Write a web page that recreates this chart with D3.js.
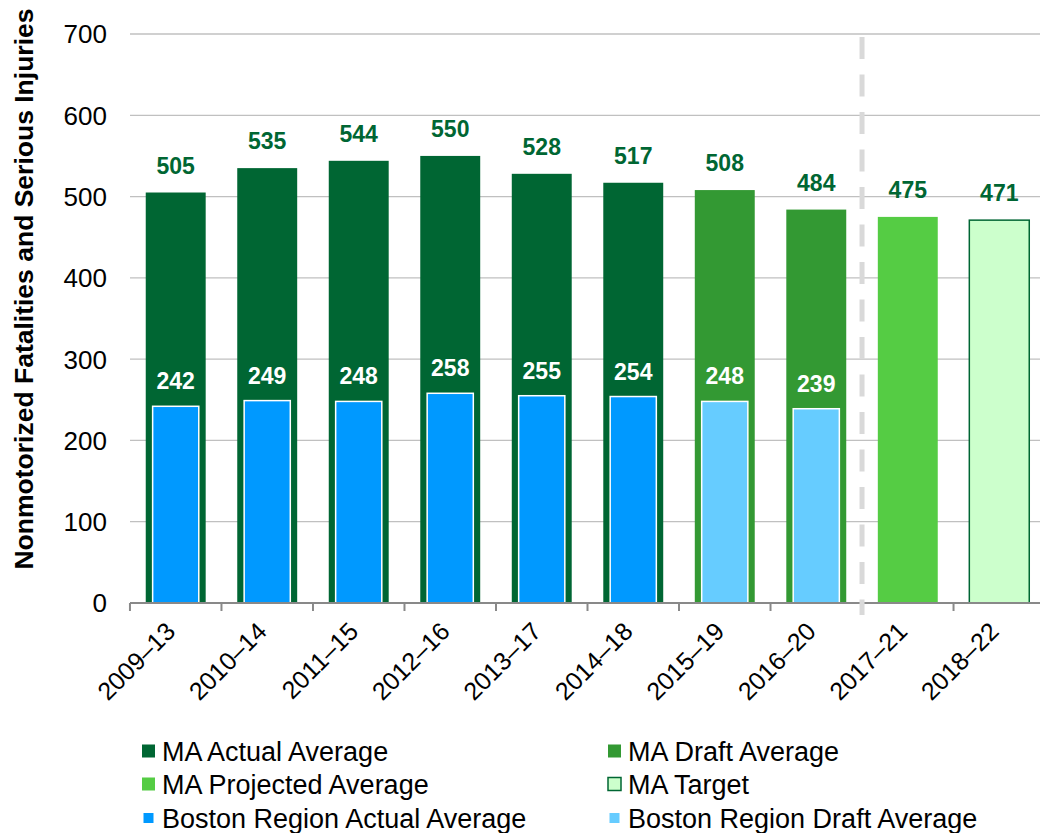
<!DOCTYPE html>
<html>
<head>
<meta charset="utf-8">
<script src="https://cdn.jsdelivr.net/npm/d3@7"></script>
<style>
  body { margin: 0; background: #fff; }
  svg { display: block; font-family: "Liberation Sans", Arial, sans-serif; }
</style>
</head>
<body>
<div id="chart"></div>
<script>
// chart data
var periods = ["2009–13", "2010–14", "2011–15", "2012–16", "2013–17", "2014–18", "2015–19", "2016–20", "2017–21", "2018–22"];
var maValues = [505, 535, 544, 550, 528, 517, 508, 484, 475, 471];
var maKinds = ["actual", "actual", "actual", "actual", "actual", "actual", "draft", "draft", "projected", "target"];
var bostonValues = [242, 249, 248, 258, 255, 254, 248, 239, null, null];
var bostonKinds = ["actual", "actual", "actual", "actual", "actual", "actual", "draft", "draft", null, null];
var yTicks = [0, 100, 200, 300, 400, 500, 600, 700];
var legendItems = [
  {label: "MA Actual Average", key: "ma-actual"},
  {label: "MA Draft Average", key: "ma-draft"},
  {label: "MA Projected Average", key: "ma-projected"},
  {label: "MA Target", key: "ma-target"},
  {label: "Boston Region Actual Average", key: "bos-actual"},
  {label: "Boston Region Draft Average", key: "bos-draft"}
];

var fills = {
  "ma-actual": "#006633",
  "ma-draft": "#339933",
  "ma-projected": "#55cc44",
  "ma-target": "#ccffcc",
  "bos-actual": "#0099ff",
  "bos-draft": "#66ccff"
};
var labelGreen = "#006633";

var width = 1040, height = 833;
var margin = {top: 34, right: -5, bottom: 230, left: 130};

var svg = d3.select("#chart").append("svg")
  .attr("width", width)
  .attr("height", height);

var x = d3.scaleBand()
  .domain(periods)
  .range([margin.left, width - margin.right])
  .paddingInner(0.345)
  .paddingOuter(0.172);

var y = d3.scaleLinear()
  .domain([0, 700])
  .range([height - margin.bottom, margin.top]);

// gridlines
svg.append("g")
  .selectAll("line")
  .data(yTicks.filter(function(d) { return d > 0; }))
  .enter().append("line")
    .attr("x1", margin.left)
    .attr("x2", width)
    .attr("y1", function(d) { return y(d); })
    .attr("y2", function(d) { return y(d); })
    .attr("stroke", "#c0c0c0")
    .attr("stroke-width", 1.3);

// y tick labels
svg.append("g")
  .selectAll("text")
  .data(yTicks)
  .enter().append("text")
    .attr("x", 107)
    .attr("y", function(d) { return y(d); })
    .attr("dy", "0.36em")
    .attr("text-anchor", "end")
    .attr("font-size", "26px")
    .attr("fill", "#000")
    .text(function(d) { return d; });

// y title
svg.append("text")
  .attr("transform", "translate(33," + 289 + ") rotate(-90)")
  .attr("text-anchor", "middle")
  .attr("font-size", "26.5px")
  .attr("font-weight", "bold")
  .text("Nonmotorized Fatalities and Serious Injuries");

// MA bars
var maData = periods.map(function(p, i) { return {period: p, value: maValues[i], kind: maKinds[i]}; });
var bosData = periods.map(function(p, i) { return {period: p, value: bostonValues[i], kind: bostonKinds[i]}; })
  .filter(function(d) { return d.value != null; });

svg.append("g")
  .selectAll("rect")
  .data(maData)
  .enter().append("rect")
    .attr("x", function(d) { return x(d.period); })
    .attr("width", x.bandwidth())
    .attr("y", function(d) { return y(d.value); })
    .attr("height", function(d) { return y(0) - y(d.value); })
    .attr("fill", function(d) { return fills["ma-" + d.kind]; })
    .attr("stroke", function(d) { return d.kind == "target" ? "#006633" : "none"; })
    .attr("stroke-width", 1.5);

svg.append("g")
  .selectAll("text")
  .data(maData)
  .enter().append("text")
    .attr("x", function(d) { return x(d.period) + x.bandwidth() / 2; })
    .attr("y", function(d) { return y(d.value) - 19; })
    .attr("text-anchor", "middle")
    .attr("font-size", "23px")
    .attr("font-weight", "bold")
    .attr("fill", labelGreen)
    .text(function(d) { return d.value; });

// Boston bars
var bosW = x.bandwidth() * 0.77;
svg.append("g")
  .selectAll("rect")
  .data(bosData)
  .enter().append("rect")
    .attr("x", function(d) { return x(d.period) + (x.bandwidth() - bosW) / 2; })
    .attr("width", bosW)
    .attr("y", function(d) { return y(d.value); })
    .attr("height", function(d) { return y(0) - y(d.value); })
    .attr("fill", function(d) { return fills["bos-" + d.kind]; })
    .attr("stroke", "#fff")
    .attr("stroke-width", 1.5);

svg.append("g")
  .selectAll("text")
  .data(bosData)
  .enter().append("text")
    .attr("x", function(d) { return x(d.period) + x.bandwidth() / 2; })
    .attr("y", function(d) { return y(d.value) - 17; })
    .attr("text-anchor", "middle")
    .attr("font-size", "23px")
    .attr("font-weight", "bold")
    .attr("fill", "#fff")
    .text(function(d) { return d.value; });

// x axis
var step = x.step();
var x0 = margin.left;
var axisG = svg.append("g");
axisG.append("line")
  .attr("x1", x0)
  .attr("x2", width)
  .attr("y1", y(0))
  .attr("y2", y(0))
  .attr("stroke", "#898989")
  .attr("stroke-width", 2);
axisG.selectAll(".tick")
  .data(d3.range(periods.length))
  .enter().append("line")
    .attr("x1", function(i) { return x(periods[i]) - step * x.paddingInner() / 2; })
    .attr("x2", function(i) { return x(periods[i]) - step * x.paddingInner() / 2; })
    .attr("y1", y(0))
    .attr("y2", y(0) + 8)
    .attr("stroke", "#898989")
    .attr("stroke-width", 2);

axisG.selectAll("text")
  .data(periods)
  .enter().append("text")
    .attr("transform", function(d) {
      return "translate(" + (x(d) + x.bandwidth() / 2 + 1) + "," + (y(0) + 30) + ") rotate(-45)";
    })
    .attr("text-anchor", "end")
    .attr("font-size", "25px")
    .attr("fill", "#000")
    .text(function(d) { return d; });

// dashed divider between actual/draft and projected/target
var divX = x(periods[8]) - step * x.paddingInner() / 2;
svg.append("line")
  .attr("x1", divX)
  .attr("x2", divX)
  .attr("y1", margin.top + 3)
  .attr("y2", y(0) + 12)
  .attr("stroke", "#d9d9d9")
  .attr("stroke-width", 5)
  .attr("stroke-dasharray", "22,15.5");

// legend
var legend = svg.append("g");
var colX = [142, 608];
var rowY = [751, 784, 818];
var item = legend.selectAll("g")
  .data(legendItems)
  .enter().append("g")
    .attr("transform", function(d, i) {
      return "translate(" + colX[i % 2] + "," + rowY[Math.floor(i / 2)] + ")";
    });
item.append("rect")
  .attr("x", function(d) { return d.key.indexOf("bos") == 0 ? 1.5 : 0; })
  .attr("y", function(d) { return d.key.indexOf("bos") == 0 ? -5 : -6.5; })
  .attr("width", function(d) { return d.key.indexOf("bos") == 0 ? 10 : 13; })
  .attr("height", function(d) { return d.key.indexOf("bos") == 0 ? 10 : 13; })
  .attr("fill", function(d) { return fills[d.key]; })
  .attr("stroke", function(d) { return d.key == "ma-target" ? "#006633" : "none"; })
  .attr("stroke-width", 1.5);
item.append("text")
  .attr("x", 20)
  .attr("dy", "0.36em")
  .attr("font-size", "27px")
  .attr("fill", "#000")
  .text(function(d) { return d.label; });
</script>
</body>
</html>
